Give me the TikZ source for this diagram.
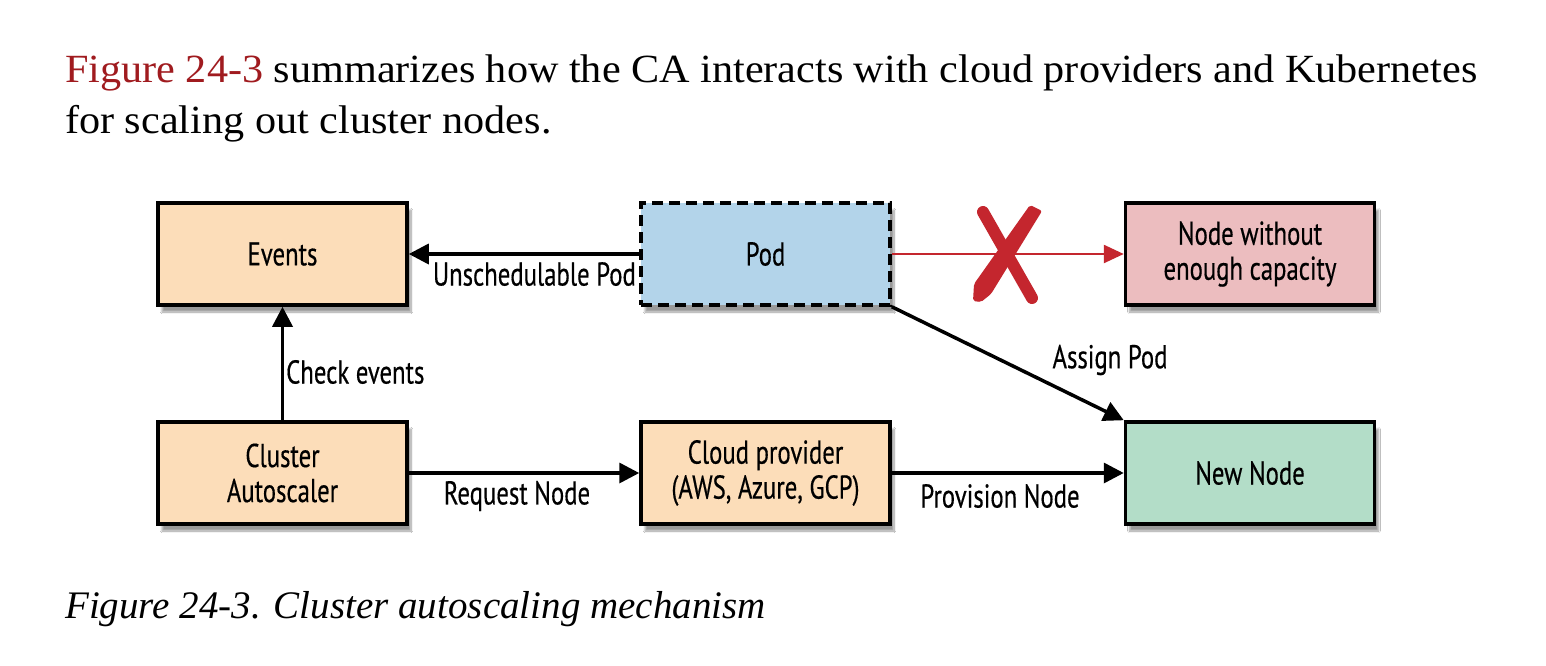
\documentclass[tikz,border=0pt]{standalone}
\usepackage{fontspec}
\setmainfont{Liberation Serif}
\newfontfamily\bodyfont[FakeStretch=1.055]{Liberation Serif}
\newfontfamily\dfont[FakeStretch=0.75,FakeBold=0.4]{PT Sans}
\usetikzlibrary{arrows.meta,shadows.blur}
\definecolor{peach}{HTML}{FCDDB9}
\definecolor{podblue}{HTML}{B3D4EA}
\definecolor{pinkbox}{HTML}{ECBDBF}
\definecolor{greenbox}{HTML}{B3DDC8}
\definecolor{xred}{HTML}{C4262E}
\definecolor{linkred}{HTML}{A01B1F}
\tikzset{
  box/.style={draw=black, line width=3.5pt, minimum width=249pt, minimum height=102pt,
    inner sep=0pt, align=center, font=\dfont\fontsize{33}{35}\selectfont,
    blur shadow={shadow xshift=4pt, shadow yshift=-7pt, shadow blur steps=10, shadow opacity=40}},
  arr/.style={line width=3.5pt, -{Triangle[length=20pt,width=20pt]}},
  redarr/.style={draw=xred, line width=2.5pt, -{Triangle[length=20pt,width=18pt]}, color=xred},
  lbl/.style={font=\dfont\fontsize{33}{35}\selectfont, inner sep=0pt},
  body/.style={font=\bodyfont\fontsize{40}{50}\selectfont, inner sep=0pt, anchor=base west}
}
\begin{document}
\begin{tikzpicture}[x=1pt,y=-1pt]
\useasboundingbox (0,0) rectangle (1546,666);
\fill[white] (0,0) rectangle (1546,666);
\node[body] (t1) at (65,83) {\textcolor{linkred}{Figure 24-3} summarizes how the CA interacts with cloud providers and Kubernetes};
\node[body] (t2) at (65,133) {for scaling out cluster nodes.};
\node[body, font=\itshape\fontsize{39}{50}\selectfont] (cap) at (65,618) {Figure 24-3. Cluster autoscaling mechanism};

\node[box, fill=peach] (events) at (282.5,254) {Events};
\node[box, fill=podblue, dashed, dash pattern=on 11pt off 6pt] (pod) at (765.5,254) {Pod};
\node[box, fill=pinkbox] (nwec) at (1250,254) {Node without\\enough capacity};
\node[box, fill=peach] (ca) at (282.5,473) {Cluster\\Autoscaler};
\node[box, fill=peach] (cloud) at (765.5,473) {Cloud provider\\(AWS, Azure, GCP)};
\node[box, fill=greenbox] (newnode) at (1250,473) {New Node};

\draw[arr] (pod.west) -- (events.east);
\node[lbl, anchor=north east] (l1) at (636,262) {Unschedulable Pod};
\draw[arr] (ca.north) -- (events.south);
\node[lbl, anchor=west] (l2) at (286,372) {Check events};
\draw[arr] (ca.east) -- (cloud.west);
\node[lbl] (l3) at (517,496) {Request Node};
\draw[arr] (cloud.east) -- (newnode.west);
\node[lbl] (l4) at (1000,496) {Provision Node};
\draw[arr] (pod.south east) -- (newnode.north west);
\node[lbl] (l5) at (1110,360) {Assign Pod};
\draw[redarr] (pod.east) -- (nwec.west);
% red X
\draw[xred, line width=12pt, line cap=round] (983,212) -- (1032,298);
\fill[xred, rounded corners=2pt] (1030,205) -- (1042,211) -- (991,294) -- (981,302) -- (973,301) -- (974,284) -- cycle;
\end{tikzpicture}
\end{document}
